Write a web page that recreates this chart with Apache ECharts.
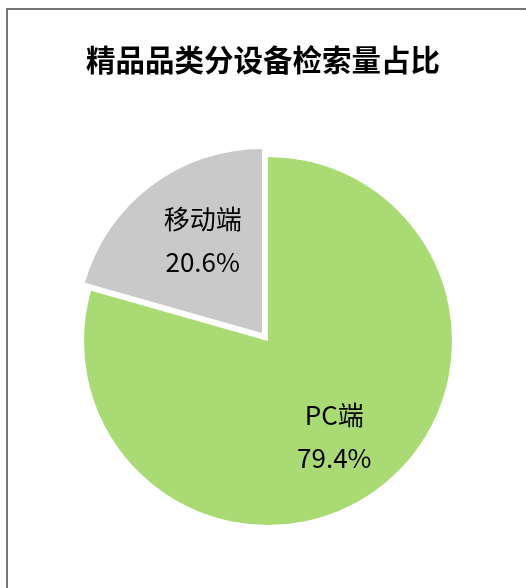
<!DOCTYPE html>
<html>
<head>
<meta charset="utf-8">
<script src="https://cdn.jsdelivr.net/npm/echarts@6/dist/echarts.min.js"></script>
<style>
  html, body { margin: 0; padding: 0; background: #fff; }
  #mycharts { width: 526px; height: 588px; position: relative; }
  #frame {
    position: absolute; left: 6px; top: 8px; right: -4px; bottom: -4px;
    border-left: 2px solid #767676; border-top: 2px solid #767676;
    pointer-events: none;
  }
</style>
</head>
<body>
<div id="mycharts"></div>
<script>
// 设备类别和占比
const devices = ['PC端', '移动端']
const shares = [79.4, 20.6]
const colors = ['#A9DA74', '#C9C9C9']
// 标签偏移（Excel 的标签比 echarts 默认更靠外）
const labelOffsets = [[9, 20], [-2, -17]]

let myCharts = echarts.init(document.getElementById('mycharts'))
let frame = document.createElement('div')
frame.id = 'frame'
document.getElementById('mycharts').appendChild(frame)

let pieData = devices.map((name, i) => ({
  name: name,
  value: shares[i],
  selected: i === 1,
  itemStyle: { color: colors[i] },
  label: { offset: labelOffsets[i] },
  select: {
    itemStyle: { color: colors[i] },
    label: { offset: labelOffsets[i], color: '#000' }
  }
}))

let options = {
  animation: false,
  title: {
    text: '精品品类分设备检索量占比',
    left: 'center',
    top: 40,
    textStyle: {
      fontFamily: 'Noto Sans CJK SC',
      fontSize: 29.5,
      fontWeight: 'bold',
      color: '#000'
    }
  },
  series: [
    {
      type: 'pie',
      center: [268, 341],
      radius: 184,
      startAngle: 90,
      clockwise: true,
      selectedMode: 'single',
      selectedOffset: 10,
      percentPrecision: 1,
      emphasis: { disabled: true },
      label: {
        show: true,
        position: 'inside',
        formatter: '{b}\n{c}%',
        fontFamily: 'Noto Sans CJK SC',
        fontSize: 26,
        lineHeight: 43,
        color: '#000'
      },
      labelLine: { show: false },
      data: pieData
    }
  ]
}
myCharts.setOption(options)
</script>
</body>
</html>
